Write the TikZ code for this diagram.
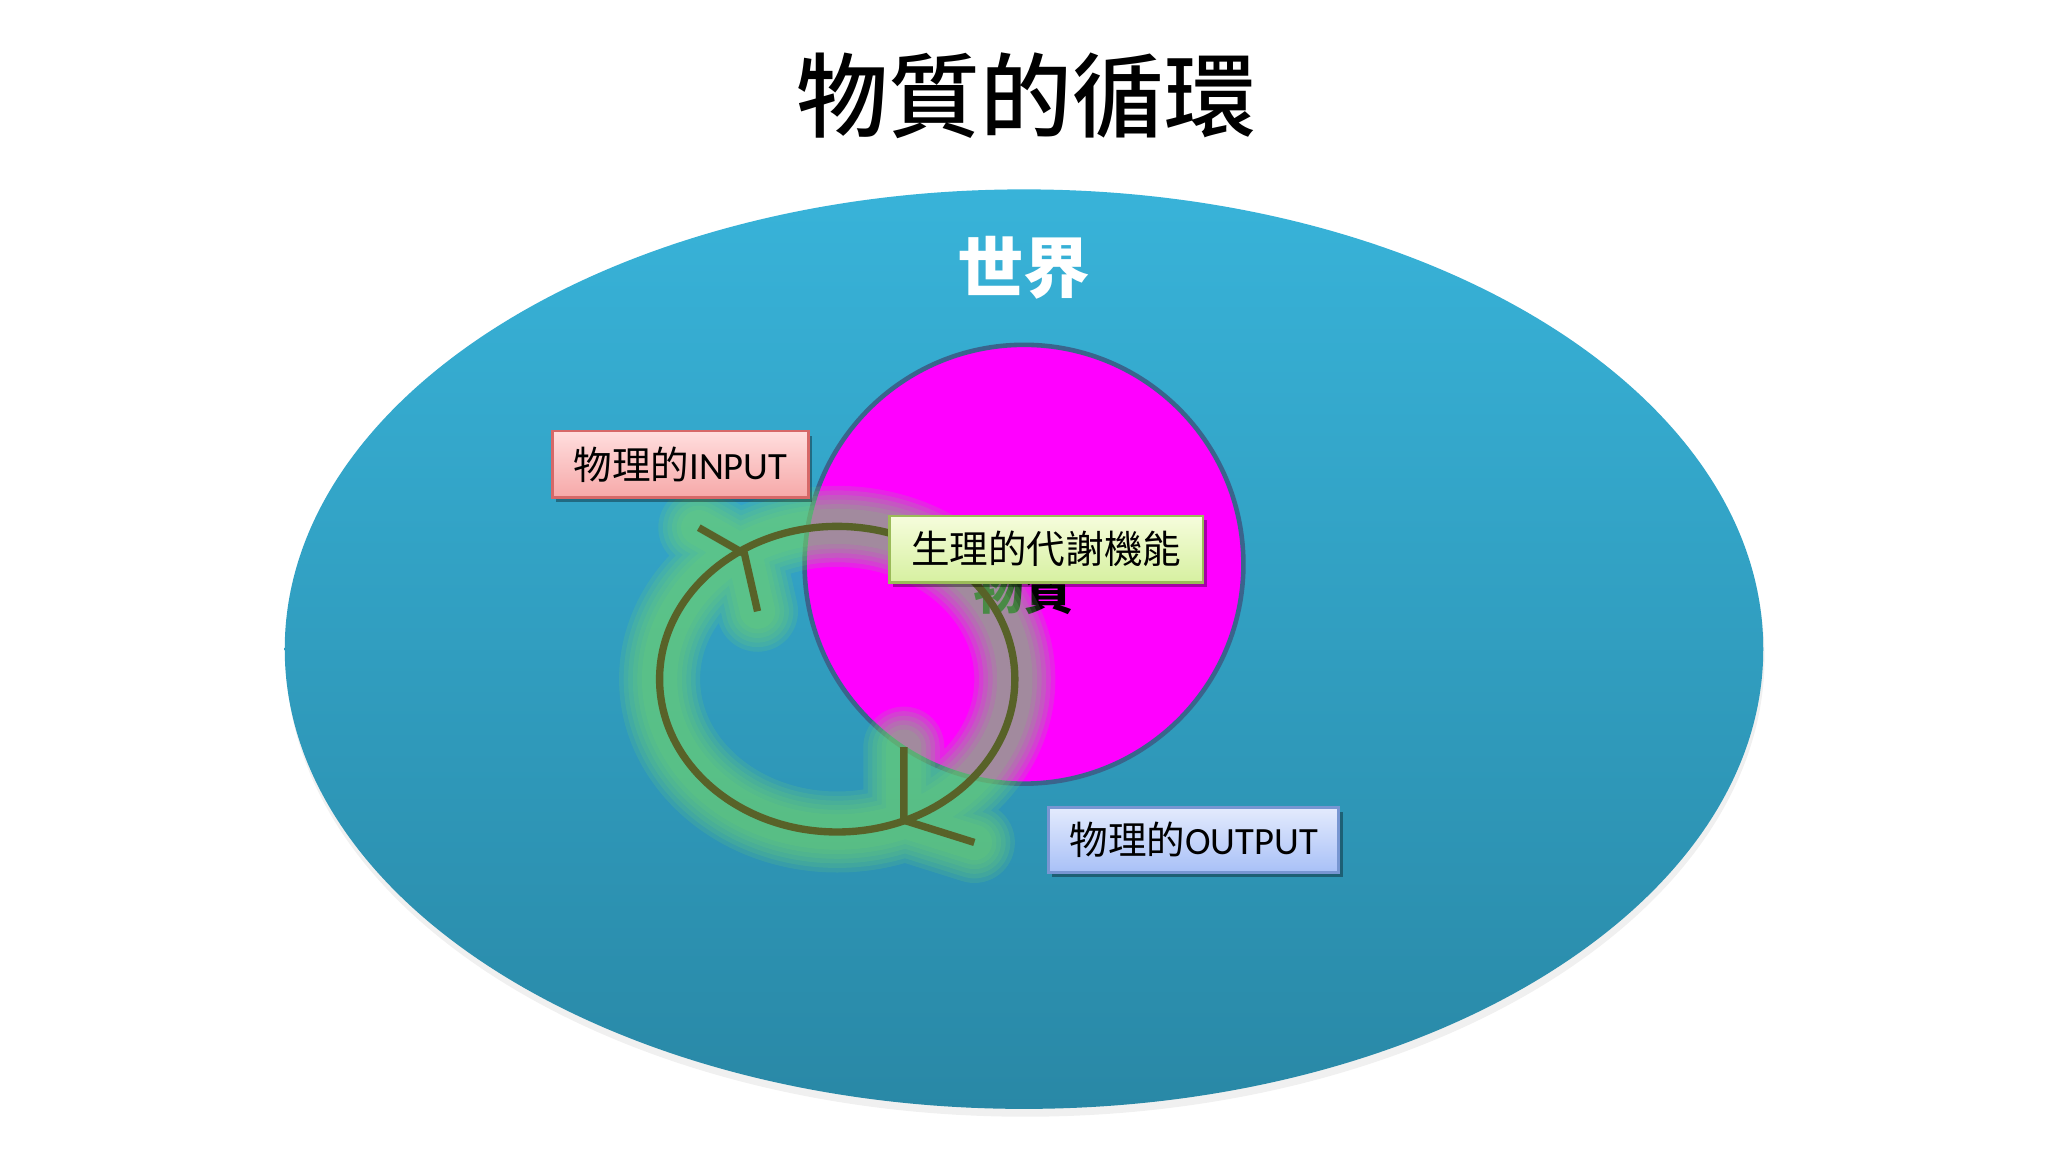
\documentclass[tikz,border=0pt]{standalone}
\usepackage{fontspec}
\newfontfamily\cjk{Noto Sans CJK TC}
\newfontfamily\cjkmed{Noto Sans CJK TC Medium}
\newfontfamily\lat{Carlito}
\usetikzlibrary{shadows}
\definecolor{worldtop}{RGB}{56,179,217}
\definecolor{worldbot}{RGB}{41,136,166}
\definecolor{circborder}{RGB}{58,100,140}
\definecolor{mag}{RGB}{255,0,255}
\definecolor{cycc}{RGB}{88,98,40}
\definecolor{glowc}{RGB}{115,215,110}
\definecolor{redtop}{RGB}{255,222,222}
\definecolor{redbot}{RGB}{246,168,168}
\definecolor{redline}{RGB}{214,104,104}
\definecolor{grntop}{RGB}{246,253,220}
\definecolor{grnbot}{RGB}{214,240,160}
\definecolor{grnline}{RGB}{155,187,89}
\definecolor{blutop}{RGB}{228,235,253}
\definecolor{blubot}{RGB}{168,192,247}
\definecolor{bluline}{RGB}{120,150,210}
\tikzset{
  labelbox/.style={draw, line width=0.6pt, inner sep=0pt, anchor=center,
    font=\fontsize{8.4}{10}\selectfont,
    drop shadow={shadow xshift=0.8pt, shadow yshift=-1pt, opacity=0.35, fill=black}},
  glowline/.style={draw=glowc, opacity=0.16, line cap=round, line join=round},
  cycline/.style={draw=cycc, line width=1.6pt, line cap=butt, line join=miter}
}
\begin{document}
\begin{tikzpicture}[x=0.01cm,y=-0.01cm]
\useasboundingbox (0,0) rectangle (1568,882);
\fill[white] (0,0) rectangle (1568,882);
% title
\node (title) at (786,73) {\cjkmed\fontsize{20}{24}\selectfont 物質的循環};
% world
\fill[black, opacity=0.06] (785,503) ellipse [x radius=566, y radius=352];
\shade[top color=worldtop, bottom color=worldbot] (784,497) ellipse [x radius=566, y radius=352];
\node[text=white] (world) at (784,205) {\cjk\bfseries\fontsize{14.5}{17}\selectfont 世界};
% matter circle
\draw[draw=circborder, line width=1pt, fill=mag] (784,432) circle [radius=168];
\node (matter) at (784,452) {\cjk\bfseries\fontsize{11}{13}\selectfont 物質};
% glow of the cycle
\foreach \w in {62,55,48,41,34,27}{
  \draw[glowline, line width=\w*0.2845pt]
    (641,520) ellipse [x radius=136, y radius=117]
    (535,404) -- (570,424) -- (580,468)
    (692,572) -- (692,628) -- (746,645);
}
% cycle
\draw[cycline] (641,520) ellipse [x radius=136, y radius=117];
\draw[cycline] (535,404) -- (570,424) -- (580,468);
\draw[cycline] (692,572) -- (692,628) -- (746,645);
% boxes
\node[labelbox, draw=redline, top color=redtop, bottom color=redbot,
  minimum width=1.96cm, minimum height=0.51cm] (input) at (521,355.5)
  {{\cjk 物理的}{\lat INPUT}};
\node[labelbox, draw=grnline, top color=grntop, bottom color=grnbot,
  minimum width=2.40cm, minimum height=0.51cm] (metab) at (801,420.5)
  {\cjk 生理的代謝機能};
\node[labelbox, draw=bluline, top color=blutop, bottom color=blubot,
  minimum width=2.22cm, minimum height=0.50cm] (output) at (914,643)
  {{\cjk 物理的}{\lat OUTPUT}};
\end{tikzpicture}
\end{document}
